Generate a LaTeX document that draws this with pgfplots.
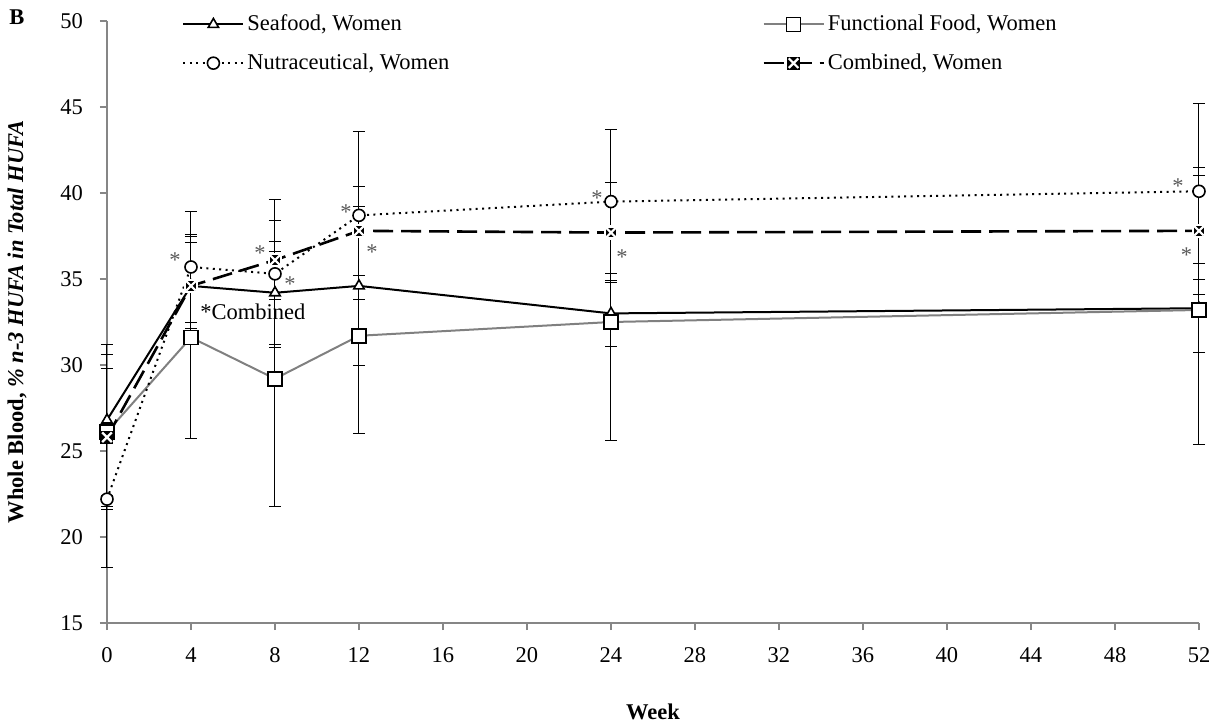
\documentclass[border=0pt]{standalone}
\usepackage{fontspec}
\setmainfont{Liberation Serif}
\usepackage{pgfplots}
\pgfplotsset{compat=1.18}
\usepackage{pgfplotstable}

\definecolor{axgray}{RGB}{134,134,134}
\definecolor{ffgray}{RGB}{128,128,128}
\definecolor{stargray}{RGB}{89,89,89}

\pgfdeclareplotmark{xsq}{%
  \pgfpathrectangle{\pgfqpoint{-\pgfplotmarksize}{-\pgfplotmarksize}}{\pgfqpoint{2\pgfplotmarksize}{2\pgfplotmarksize}}%
  \pgfusepathqfillstroke
  \pgfsetstrokecolor{white}%
  \pgfsetlinewidth{1.1pt}%
  \pgfpathmoveto{\pgfqpoint{-0.8\pgfplotmarksize}{-0.8\pgfplotmarksize}}%
  \pgfpathlineto{\pgfqpoint{0.8\pgfplotmarksize}{0.8\pgfplotmarksize}}%
  \pgfpathmoveto{\pgfqpoint{-0.8\pgfplotmarksize}{0.8\pgfplotmarksize}}%
  \pgfpathlineto{\pgfqpoint{0.8\pgfplotmarksize}{-0.8\pgfplotmarksize}}%
  \pgfusepathqstroke
}

\pgfplotstableread{
x y e
0 26.8 4.4
4 34.6 2.5
8 34.2 3.0
12 34.6 4.6
24 33.0 1.9
52 33.3 2.6
}\seafood
\pgfplotstableread{
x y e
0 26.1 4.5
4 31.6 5.9
8 29.2 7.4
12 31.7 5.7
24 32.5 6.9
52 33.2 7.8
}\functional
\pgfplotstableread{
x y e
0 22.2 4.0
4 35.7 3.2
8 35.3 4.3
12 38.7 4.9
24 39.5 4.2
52 40.1 5.1
}\nutra
\pgfplotstableread{
x y e
0 25.8 4.0
4 34.6 3.0
8 36.1 2.3
12 37.8 2.6
24 37.7 2.9
52 37.8 3.7
}\combined

\newcommand{\chartfont}{\fontsize{11.25}{13.5}\selectfont}
\tikzset{star/.style={text=stargray, inner sep=0pt, yshift=-1.8pt, font=\chartfont}}

\begin{document}
\begin{tikzpicture}
\begin{axis}[
  scale only axis, width=546pt, height=301pt,
  xmin=0, xmax=52, ymin=15, ymax=50,
  xtick={0,4,...,52}, ytick={15,20,...,50},
  axis lines*=left,
  axis line style={axgray, line width=0.8pt},
  tick align=outside, major tick length=3.5pt,
  tick style={axgray, line width=0.8pt},
  font=\chartfont,
  /pgf/number format/assume math mode=true,
  xticklabel style={font=\chartfont, anchor=north, text height=0.68em, text depth=0pt, yshift=-6pt},
  yticklabel style={font=\chartfont, anchor=east, xshift=-5pt},
  xlabel={\textbf{Week}},
  every axis x label/.style={at={(rel axis cs:0.5,0)}, anchor=center, yshift=-44.5pt, font=\chartfont},
  ylabel={\textbf{Whole Blood, \textit{\% n-3 HUFA in Total HUFA}}},
  every axis y label/.style={at={(rel axis cs:0,0.5)}, xshift=-45pt, rotate=90, anchor=center, font=\chartfont},
  clip=false,
  legend columns=2,
  legend cell align=left,
  legend style={draw=none, fill=none, inner sep=0pt,
    at={(rel axis cs:0,1)}, anchor=north west, xshift=37.5pt, yshift=4.7pt,
    nodes={inner sep=1.5pt},
    /tikz/every even column/.append style={column sep=155pt},
    row sep=7pt,
    font=\chartfont},
  legend image code/.code={\draw[mark repeat=2,mark phase=2,#1] plot coordinates {(0pt,0pt) (15pt,0pt) (30pt,0pt)};},
  error bars/error bar style={solid, black, line width=0.5pt},
  error bars/error mark options={rotate=90, solid, black, line width=0.5pt, mark size=3pt},
]
\addplot[black, line width=1pt, mark=triangle*, mark size=3pt,
  mark options={solid, fill=white, draw=black, line width=0.8pt},
  error bars/.cd, y dir=both, y explicit]
  table[x=x, y=y, y error=e] {\seafood};
\addlegendentry{Seafood, Women}
\addplot[ffgray, line width=1pt, mark=square*, mark size=3.5pt,
  mark options={solid, fill=white, draw=black, line width=0.8pt},
  error bars/.cd, y dir=both, y explicit]
  table[x=x, y=y, y error=e] {\functional};
\addlegendentry{Functional Food, Women}
\addplot[black, line width=1pt, dash pattern=on 1pt off 2.2pt, mark=*, mark size=3pt,
  mark options={solid, fill=white, draw=black, line width=0.8pt},
  error bars/.cd, y dir=both, y explicit]
  table[x=x, y=y, y error=e] {\nutra};
\addlegendentry{Nutraceutical, Women}
\addplot[black, line width=1.3pt, dash pattern=on 10pt off 4pt, mark=xsq, mark size=3pt,
  mark options={solid, fill=black, draw=black, line width=0.5pt},
  error bars/.cd, y dir=both, y explicit]
  table[x=x, y=y, y error=e] {\combined};
\addlegendentry{Combined, Women}

\node[star] at (axis cs:3.24,36.3) {*};
\node[star] at (axis cs:7.29,36.7) {*};
\node[star] at (axis cs:8.71,34.9) {*};
\node[star] at (axis cs:11.38,39.1) {*};
\node[star] at (axis cs:12.62,36.8) {*};
\node[star] at (axis cs:23.33,39.9) {*};
\node[star] at (axis cs:24.52,36.5) {*};
\node[star] at (axis cs:51.0,40.6) {*};
\node[star] at (axis cs:51.4,36.6) {*};
\node[inner sep=0pt, anchor=center, font=\chartfont] at (axis cs:6.95,33.1) {*Combined};

\node[font=\chartfont\bfseries, inner sep=0pt, anchor=center, xshift=-45pt, yshift=1.75pt] at (rel axis cs:0,1) {B};
\coordinate (bl) at (rel axis cs:0,0);
\end{axis}
\pgfresetboundingbox
\path (bl) ++(-53.5pt,-50pt) rectangle ++(607.5pt,361.5pt);
\end{tikzpicture}
\end{document}
